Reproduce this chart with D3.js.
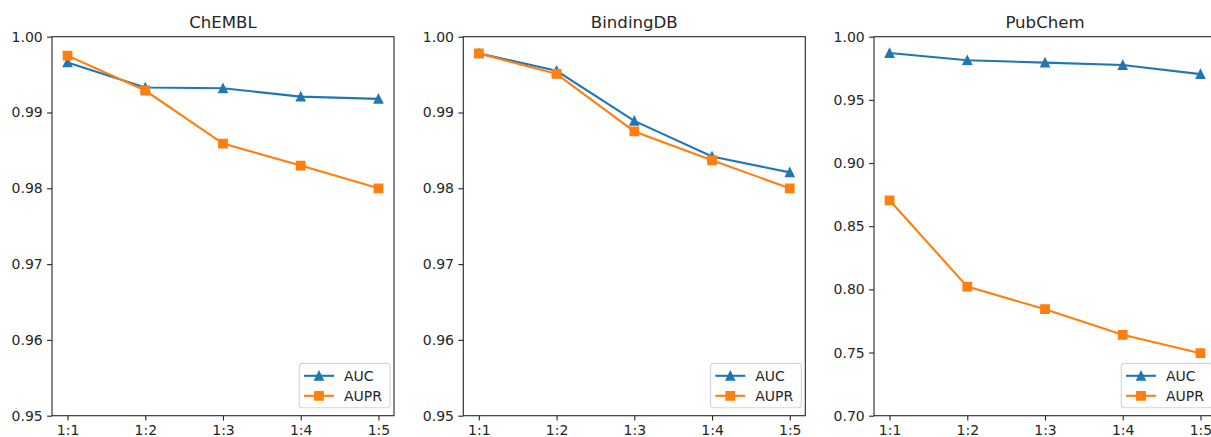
<!DOCTYPE html>
<html>
<head>
<meta charset="utf-8">
<script src="https://cdn.jsdelivr.net/npm/d3@7"></script>
<style>
    body { margin: 0; background: #fff; }
    text { font-family: "DejaVu Sans", sans-serif; fill: #262626; }
</style>
</head>
<body>
<div id="chart"></div>
<script>
    var ratios = ["1:1", "1:2", "1:3", "1:4", "1:5"];

    var titles = ["ChEMBL", "BindingDB", "PubChem"];

    var chembl_auc = [0.9966, 0.9933, 0.9932, 0.9921, 0.9918];
    var chembl_aupr = [0.9975, 0.9929, 0.9859, 0.9830, 0.9800];

    var bindingdb_auc = [0.9978, 0.9955, 0.9889, 0.9842, 0.9821];
    var bindingdb_aupr = [0.9978, 0.9951, 0.9875, 0.9837, 0.9800];

    var pubchem_auc = [0.9871, 0.9814, 0.9795, 0.9776, 0.9704];
    var pubchem_aupr = [0.8705, 0.8022, 0.7843, 0.7640, 0.7495];

    var y_domains = [[0.95, 1.00], [0.95, 1.00], [0.70, 1.00]];
    var y_ticks = [
        [0.95, 0.96, 0.97, 0.98, 0.99, 1.00],
        [0.95, 0.96, 0.97, 0.98, 0.99, 1.00],
        [0.70, 0.75, 0.80, 0.85, 0.90, 0.95, 1.00]
    ];

    var series_names = ["AUC", "AUPR"];
    var series_colors = ["#1f77b4", "#ff7f0e"];

    var panels = [
        [chembl_auc, chembl_aupr],
        [bindingdb_auc, bindingdb_aupr],
        [pubchem_auc, pubchem_aupr]
    ];

    var full_width = 1211,
        full_height = 437;

    var panel_left = [52, 463.3, 874],
        panel_top = 36.7,
        width = 342,
        height = 379;

    var svg = d3.select("#chart")
        .append("svg")
        .attr("width", full_width)
        .attr("height", full_height);

    // matplotlib-like markers: '^' and 's', 8.4px boxes
    var m = 4.2;
    var triangle = "M0," + (-m) + "L" + m + "," + m + "L" + (-m) + "," + m + "Z";
    var square = "M" + (-m) + "," + (-m) + "h" + (2 * m) + "v" + (2 * m) + "h" + (-2 * m) + "Z";
    var markers = [triangle, square];

    panels.forEach(function(series, p) {
        var g = svg.append("g")
            .attr("transform", "translate(" + panel_left[p] + "," + panel_top + ")");

        // point scale with 5% margins like matplotlib
        var x = d3.scalePoint()
            .domain(ratios)
            .range([0, width])
            .padding(0.2);

        var y = d3.scaleLinear()
            .domain(y_domains[p])
            .range([height, 0]);

        // X Axis
        var xAxis = g.append("g")
            .attr("transform", "translate(0," + height + ")")
            .call(d3.axisBottom(x).tickSize(4.9).tickPadding(4.4));
        xAxis.select(".domain").remove();

        // Y Axis
        var yAxis = g.append("g")
            .call(d3.axisLeft(y).tickValues(y_ticks[p]).tickFormat(d3.format(".2f")).tickSize(4.9).tickPadding(4.4));
        yAxis.select(".domain").remove();

        g.selectAll(".tick line").attr("stroke", "#262626").attr("stroke-width", 1.1);
        g.selectAll(".tick text")
            .style("font-size", "14px")
            .style("font-family", "DejaVu Sans, sans-serif")
            .attr("fill", "#262626");

        var lines = g.append("g");

        series.forEach(function(values, s) {
            var line = d3.line()
                .x(function(d, i) { return x(ratios[i]); })
                .y(function(d) { return y(d); });

            lines.append("path")
                .datum(values)
                .attr("fill", "none")
                .attr("stroke", series_colors[s])
                .attr("stroke-width", 2.1)
                .attr("d", line);

            lines.selectAll(".marker" + s)
                .data(values)
                .enter()
                .append("path")
                .attr("class", "marker" + s)
                .attr("d", markers[s])
                .attr("transform", function(d, i) {
                    return "translate(" + x(ratios[i]) + "," + y(d) + ")";
                })
                .attr("fill", series_colors[s])
                .attr("stroke", series_colors[s])
                .attr("stroke-width", 1.4)
                .attr("stroke-linejoin", "miter");
        });

        // frame
        g.append("rect")
            .attr("width", width)
            .attr("height", height)
            .attr("fill", "none")
            .attr("stroke", "#262626")
            .attr("stroke-width", 1.1);

        // title
        g.append("text")
            .attr("x", width / 2)
            .attr("y", -8.4)
            .style("text-anchor", "middle")
            .style("font-size", "16.6px")
            .text(titles[p]);

        // legend
        var legend = g.append("g")
            .attr("transform", "translate(" + (width - 94.7) + "," + (height - 52.3) + ")");

        legend.append("rect")
            .attr("width", 90.7)
            .attr("height", 44.4)
            .attr("rx", 3)
            .attr("fill", "#fff")
            .attr("fill-opacity", 0.8)
            .attr("stroke", "#d5d5d5")
            .attr("stroke-width", 1.1);

        series_names.forEach(function(name, s) {
            var row = legend.append("g")
                .attr("transform", "translate(0," + (12.4 + s * 20) + ")");
            row.append("line")
                .attr("x1", 4.7)
                .attr("x2", 34.7)
                .attr("stroke", series_colors[s])
                .attr("stroke-width", 2.1);
            row.append("path")
                .attr("d", markers[s])
                .attr("transform", "translate(19.7,0)")
                .attr("fill", series_colors[s])
                .attr("stroke", series_colors[s])
                .attr("stroke-width", 1.4);
            row.append("text")
                .attr("x", 44.7)
                .attr("dy", "0.36em")
                .style("font-size", "14px")
                .text(name);
        });
    });
</script>
</body>
</html>
